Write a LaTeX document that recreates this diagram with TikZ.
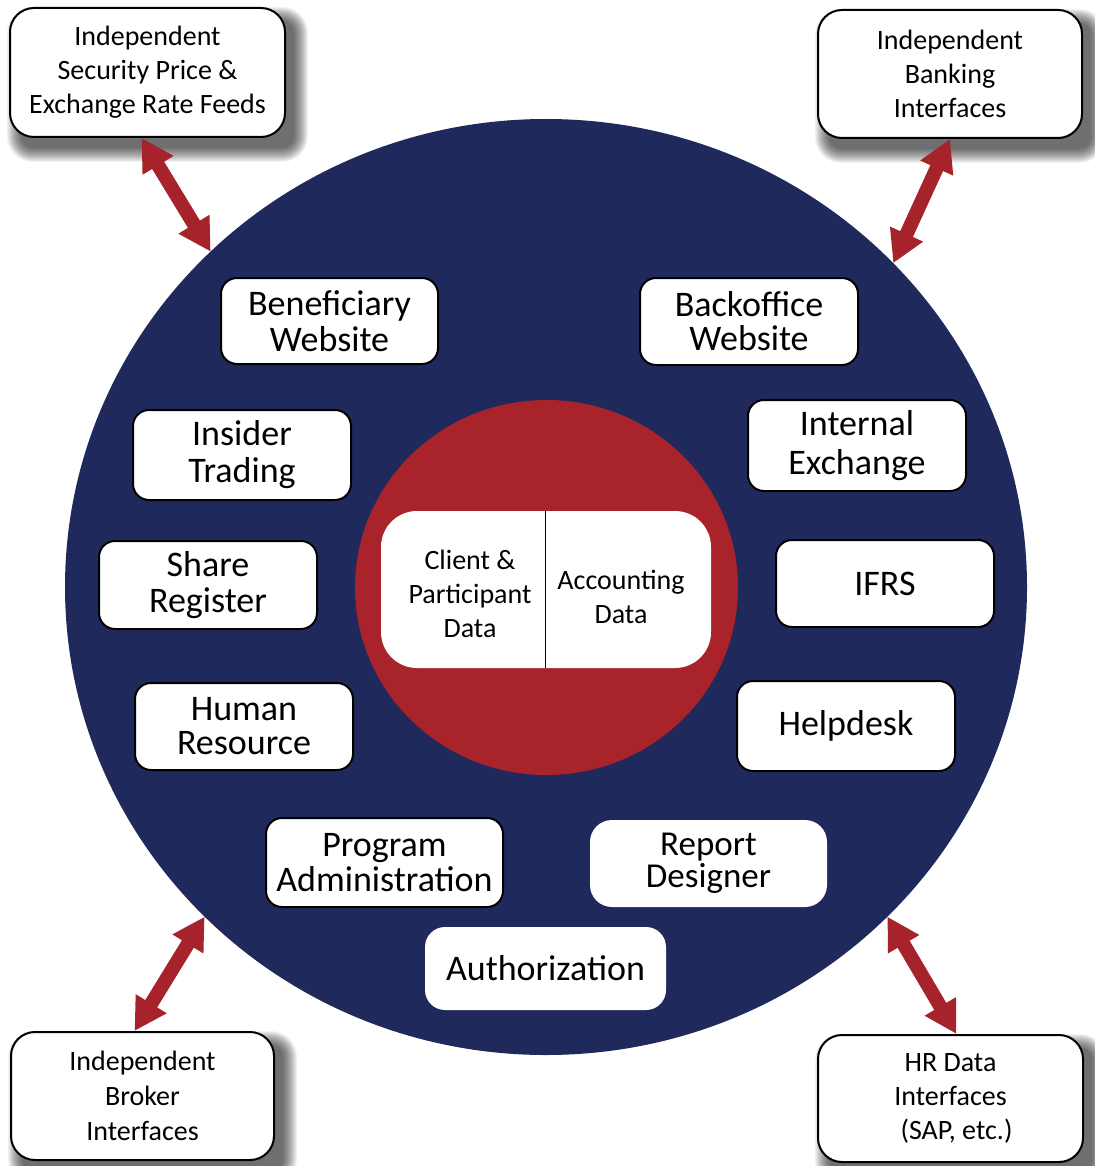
\documentclass[tikz,border=0pt]{standalone}
\usepackage{fontspec}
\setmainfont{Carlito}
\usetikzlibrary{arrows.meta,shapes.geometric,backgrounds}
\definecolor{navy}{RGB}{31,41,91}
\definecolor{core}{RGB}{168,35,42}
\definecolor{arrowred}{RGB}{166,35,43}
\tikzset{
  outerbox/.style={draw=black, line width=2pt, fill=white, rounded corners=24pt,
    align=center, inner sep=0pt, font=\fontsize{28pt}{34pt}\selectfont},
  modbox/.style={draw=black, line width=2pt, fill=white, rounded corners=16pt,
    align=center, inner sep=0pt, font=\fontsize{36pt}{36pt}\selectfont},
  plainbox/.style={fill=white, rounded corners=22pt, align=center, inner sep=0pt},
  coretext/.style={align=center, inner sep=0pt, font=\fontsize{28pt}{34pt}\selectfont},
  link/.style={draw=arrowred, line width=14pt,
    {Triangle[width=34pt,length=32pt]}-{Triangle[width=34pt,length=32pt]}},
  divider/.style={draw=black, line width=1.6pt},
  shadowlayer/.style={fill=black, opacity=0.05}
}
\newcommand\myshadow[1]{%
  \foreach \e in {14,13,...,0}{%
    \pgfmathsetmacro\rc{12+\e}%
    \fill[shadowlayer, rounded corners=\rc pt]
      ([shift={(10-\e+2,12+\e-2)}]#1.south west) rectangle ([shift={(10+\e-2,12-\e+2)}]#1.north east);}}
\begin{document}
\begin{tikzpicture}[x=1pt,y=-1pt]
\useasboundingbox (0,0) rectangle (1094,1166);

% main circles
\node[ellipse, fill=navy, minimum width=962pt, minimum height=936pt, inner sep=0pt, outer sep=0pt] (blue) at (546,587) {};
\node[ellipse, fill=core, minimum width=383pt, minimum height=375pt, inner sep=0pt, outer sep=0pt] (red) at (546.5,587.5) {};

% central data box
\node[plainbox, rounded corners=36pt, minimum width=330pt, minimum height=157pt] (data) at (546,589.5) {};
\coordinate (dtop) at (545.5,511);
\coordinate (dbot) at (545.5,668);
\draw[divider] (dtop) -- (dbot);
\node[coretext] (client) at (470,594) {Client \&\\Participant\\Data};
\node[coretext] (acct) at (621,597) {Accounting\\Data};

% modules
\node[modbox, minimum width=217pt, minimum height=86pt] (ben) at (329.5,321) {Beneficiary\\Website};
\node[modbox, minimum width=218pt, minimum height=90pt, font=\fontsize{36pt}{37pt}\selectfont] (ins) at (242,455) {Insider\\Trading};
\node[modbox, minimum width=218pt, minimum height=88pt] (share) at (208,585) {Share\\Register};
\node[modbox, minimum width=218pt, minimum height=87pt, font=\fontsize{36pt}{34pt}\selectfont] (hum) at (244,726.5) {Human\\Resource};
\node[modbox, minimum width=237pt, minimum height=89pt, font=\fontsize{36pt}{35pt}\selectfont] (prog) at (384.5,862.5) {Program\\Administration};
\node[modbox, minimum width=218pt, minimum height=87pt, font=\fontsize{36pt}{34pt}\selectfont] (back) at (749,321.5) {Backoffice\\Website};
\node[modbox, minimum width=218pt, minimum height=91pt, font=\fontsize{36pt}{39pt}\selectfont] (intex) at (857,445.5) {Internal\\Exchange};
\node[modbox, minimum width=218pt, minimum height=87pt] (ifrs) at (885,583.5) {IFRS};
\node[modbox, minimum width=218pt, minimum height=90pt] (help) at (846,726) {Helpdesk};
\node[plainbox, minimum width=237pt, minimum height=87pt, font=\fontsize{35pt}{32pt}\selectfont] (rep) at (708.5,863.5) {Report\\Designer};
\node[plainbox, rounded corners=20pt, minimum width=241pt, minimum height=83pt, font=\fontsize{36pt}{38pt}\selectfont] (auth) at (545.5,968.5) {Authorization};

% outer interfaces
\node[outerbox, minimum width=275pt, minimum height=129pt] (sec) at (147.5,72.5) {Independent\\Security Price \&\\Exchange Rate Feeds};
\node[outerbox, minimum width=264pt, minimum height=128pt] (bank) at (950,74) {Independent\\Banking\\Interfaces};
\node[outerbox, minimum width=263pt, minimum height=128pt, font=\fontsize{28pt}{35pt}\selectfont] (brok) at (142.5,1096) {Independent\\Broker\\Interfaces};
\node[outerbox, minimum width=265pt, minimum height=127pt] (hr) at (950.5,1098.5) {HR Data\\Interfaces\\\hspace*{12pt}(SAP, etc.)};

\begin{scope}[on background layer]
  \fill[white] (0,0) rectangle (1094,1166);
  \myshadow{sec}
  \myshadow{bank}
  \myshadow{brok}
  \myshadow{hr}
\end{scope}

% connectors
\draw[link] ([xshift=-6pt]sec.south) -- (blue.135);
\draw[link] (bank.south) -- (blue.43);
\draw[link] ([xshift=-8pt]brok.north) -- (blue.224.5);
\draw[link] ([xshift=6pt]hr.north) -- (blue.316);
\end{tikzpicture}
\end{document}
